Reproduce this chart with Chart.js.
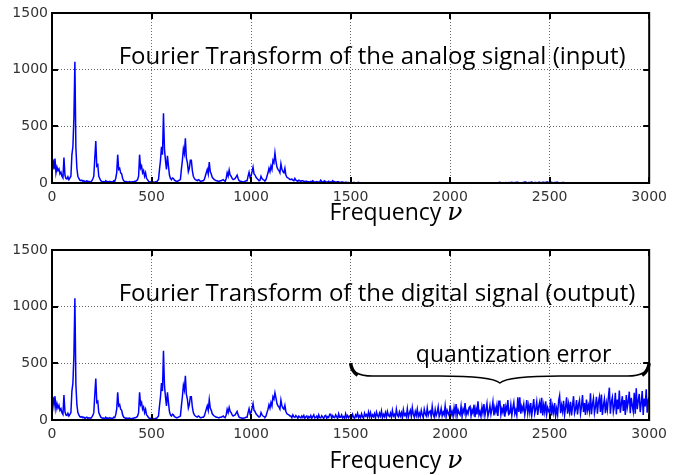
<!DOCTYPE html>
<html><head><meta charset="utf-8">
<script src="https://cdn.jsdelivr.net/npm/chart.js@4"></script>
<style>
body{margin:0;background:#fff;width:673px;height:475px;overflow:hidden;position:relative}
canvas{position:absolute;left:0}
</style>
</head><body>
<canvas id="c1" width="673" height="237" style="top:0"></canvas>
<canvas id="c2" width="673" height="238" style="top:237px"></canvas>
<script>
const freqHz = [
0,5,10,15,20,25,30,35,40,45,50,55,60,65,70,75,80,85,90,95,
100,105,110,115,120,125,130,135,140,145,150,155,160,165,170,175,180,185,190,195,
200,205,210,215,220,225,230,235,240,245,250,255,260,265,270,275,280,285,290,295,
300,305,310,315,320,325,330,335,340,345,350,355,360,365,370,375,380,385,390,395,
400,405,410,415,420,425,430,435,440,445,450,455,460,465,470,475,480,485,490,495,
500,505,510,515,520,525,530,535,540,545,550,555,560,565,570,575,580,585,590,595,
600,605,610,615,620,625,630,635,640,645,650,655,660,665,670,675,680,685,690,695,
700,705,710,715,720,725,730,735,740,745,750,755,760,765,770,775,780,785,790,795,
800,805,810,815,820,825,830,835,840,845,850,855,860,865,870,875,880,885,890,895,
900,905,910,915,920,925,930,935,940,945,950,955,960,965,970,975,980,985,990,995,
1000,1005,1010,1015,1020,1025,1030,1035,1040,1045,1050,1055,1060,1065,1070,1075,1080,1085,1090,1095,
1100,1105,1110,1115,1120,1125,1130,1135,1140,1145,1150,1155,1160,1165,1170,1175,1180,1185,1190,1195,
1200,1205,1210,1215,1220,1225,1230,1235,1240,1245,1250,1255,1260,1265,1270,1275,1280,1285,1290,1295,
1300,1305,1310,1315,1320,1325,1330,1335,1340,1345,1350,1355,1360,1365,1370,1375,1380,1385,1390,1395,
1400,1405,1410,1415,1420,1425,1430,1435,1440,1445,1450,1455,1460,1465,1470,1475,1480,1485,1490,1495,
1500,1505,1510,1515,1520,1525,1530,1535,1540,1545,1550,1555,1560,1565,1570,1575,1580,1585,1590,1595,
1600,1605,1610,1615,1620,1625,1630,1635,1640,1645,1650,1655,1660,1665,1670,1675,1680,1685,1690,1695,
1700,1705,1710,1715,1720,1725,1730,1735,1740,1745,1750,1755,1760,1765,1770,1775,1780,1785,1790,1795,
1800,1805,1810,1815,1820,1825,1830,1835,1840,1845,1850,1855,1860,1865,1870,1875,1880,1885,1890,1895,
1900,1905,1910,1915,1920,1925,1930,1935,1940,1945,1950,1955,1960,1965,1970,1975,1980,1985,1990,1995,
2000,2005,2010,2015,2020,2025,2030,2035,2040,2045,2050,2055,2060,2065,2070,2075,2080,2085,2090,2095,
2100,2105,2110,2115,2120,2125,2130,2135,2140,2145,2150,2155,2160,2165,2170,2175,2180,2185,2190,2195,
2200,2205,2210,2215,2220,2225,2230,2235,2240,2245,2250,2255,2260,2265,2270,2275,2280,2285,2290,2295,
2300,2305,2310,2315,2320,2325,2330,2335,2340,2345,2350,2355,2360,2365,2370,2375,2380,2385,2390,2395,
2400,2405,2410,2415,2420,2425,2430,2435,2440,2445,2450,2455,2460,2465,2470,2475,2480,2485,2490,2495,
2500,2505,2510,2515,2520,2525,2530,2535,2540,2545,2550,2555,2560,2565,2570,2575,2580,2585,2590,2595,
2600,2605,2610,2615,2620,2625,2630,2635,2640,2645,2650,2655,2660,2665,2670,2675,2680,2685,2690,2695,
2700,2705,2710,2715,2720,2725,2730,2735,2740,2745,2750,2755,2760,2765,2770,2775,2780,2785,2790,2795,
2800,2805,2810,2815,2820,2825,2830,2835,2840,2845,2850,2855,2860,2865,2870,2875,2880,2885,2890,2895,
2900,2905,2910,2915,2920,2925,2930,2935,2940,2945,2950,2955,2960,2965,2970,2975,2980,2985,2990,2995,
3000];

const analogMag = [
170,210,120,215,90,140,110,125,80,95, 60,45,225,70,40,35,55,30,45,60,
250,320,570,1070,310,130,60,40,25,20, 25,15,20,10,15,20,10,15,12,10,
20,35,60,220,370,150,160,60,40,20, 15,10,12,8,20,10,12,10,15,10,
10,8,20,15,40,90,250,120,130,90, 80,40,20,15,10,12,8,10,12,8,
8,10,10,15,15,20,30,60,250,130, 150,90,110,60,90,40,30,15,10,8,
12,10,8,6,10,8,20,30,120,200, 320,250,615,300,200,120,240,150,70,40,
30,45,40,25,20,15,15,20,25,30, 120,200,300,260,395,220,180,100,130,200,
200,110,60,40,30,25,20,30,25,15, 15,20,20,30,60,90,120,80,185,100,
80,50,40,30,25,20,20,15,15,20, 20,25,30,20,15,40,90,60,115,70,
60,40,30,35,40,55,70,40,20,15, 15,10,10,12,15,20,20,60,95,50,
60,100,140,80,70,50,40,30,20,25, 60,40,30,25,20,30,60,90,130,100,
150,120,200,180,265,190,140,120,110,90, 170,120,100,90,130,70,50,45,40,30,
30,35,25,20,40,25,20,15,25,20, 15,20,20,15,12,15,15,10,10,8,
15,10,20,12,10,8,12,10,8,10, 25,12,10,15,20,8,8,10,15,6,
10,8,20,10,12,6,8,10,10,5, 6,8,8,4,5,6,6,3,4,3,
3,2,2,4,4,1,1,2,6,3, 2,1,1,2,3,1,1,0,2,1,
1,0,2,1,1,0,1,2,3,1, 1,0,0,1,2,1,1,0,1,1,
1,0,0,1,2,1,1,0,1,0, 0,1,1,0,2,1,0,1,0,1,
0,1,1,0,0,1,2,0,1,0, 0,1,1,0,0,1,0,1,1,0,
1,0,0,1,0,1,1,0,0,1, 1,0,2,1,0,1,1,0,0,1,
0,1,0,0,1,1,1,0,0,1, 0,1,2,0,1,1,0,1,1,0,
1,0,0,1,1,0,2,1,0,1, 0,1,1,0,1,1,2,0,1,2,
1,2,2,1,1,3,3,2,2,4, 6,3,3,2,2,1,5,3,2,4,
3,5,7,2,2,4,4,6,6,2, 2,3,3,5,5,8,8,3,3,4,
4,6,9,3,3,5,5,2,2,7, 7,3,3,6,6,4,4,8,8,3,
3,6,6,2,2,4,4,7,7,3, 3,2,2,5,5,2,2,1,1,0,
2,1,1,0,0,1,1,2,2,1, 1,0,0,1,1,1,1,0,0,1,
1,0,0,1,1,0,0,2,2,1, 1,0,0,1,1,0,0,1,1,0,
0,1,1,0,0,1,1,0,0,1, 1,0,0,1,1,0,2,1,1,0,
0,1,1,0,0,0,0,1,1,0, 0,1,1,0,0,1,1,0,0,1,
1];

const digitalMag = [
175,205,125,210,95,145,105,130,85,100, 65,50,220,75,45,40,60,35,50,65,
255,325,565,1075,315,135,65,45,30,25, 30,20,25,15,20,25,15,20,18,15,
25,40,65,225,365,155,165,65,45,25, 20,15,18,12,25,15,18,15,20,15,
15,12,25,20,45,95,245,125,135,95, 85,45,25,20,15,18,12,15,18,12,
12,15,15,20,20,25,35,65,245,135, 155,95,115,65,95,45,35,20,15,12,
18,15,12,10,15,12,25,35,125,205, 325,255,610,305,205,125,245,155,75,45,
35,50,45,30,25,20,20,25,30,35, 125,205,305,265,390,225,185,105,135,205,
205,115,65,45,35,30,25,35,30,20, 20,25,25,35,65,95,125,85,180,105,
85,55,45,35,30,25,25,20,20,25, 25,30,35,25,20,45,95,65,110,75,
65,45,35,40,45,60,75,45,25,20, 20,15,15,18,20,25,25,65,100,55,
65,105,145,85,75,55,45,35,25,30, 65,45,35,30,25,35,65,95,135,105,
155,125,205,185,240,195,145,125,115,95, 175,125,105,95,130,75,55,50,45,35,
35,20,45,28,22,40,30,15,35,25, 18,35,22,40,15,28,35,12,30,20,
40,15,30,45,18,22,35,10,45,20, 18,38,25,12,35,40,15,30,22,50,
50,15,38,25,20,45,30,12,55,25, 25,45,18,30,15,55,22,40,20,35,
40,18,50,25,12,45,30,60,20,38, 20,55,28,15,60,35,48,22,70,30,
65,20,45,30,55,15,70,40,25,60, 35,80,20,50,30,65,25,75,40,30,
60,25,85,35,50,20,95,45,30,70, 35,65,20,90,40,55,30,100,25,60,
85,30,110,50,25,75,40,95,30,60, 30,85,45,20,95,55,35,105,40,70,
80,30,120,50,25,90,38,65,115,30, 55,100,35,70,45,125,30,85,60,40,
130,45,75,30,110,55,140,35,90,60, 45,120,30,95,65,150,40,80,55,110,
120,35,90,60,135,25,100,50,165,45, 75,30,115,60,140,40,90,145,35,70,
125,50,95,160,40,110,70,130,35,165, 165,45,100,65,140,30,120,85,175,50,
60,135,40,105,155,55,90,40,200,70, 200,55,120,85,140,45,100,175,60,130,
65,150,40,110,185,55,95,160,45,120, 160,60,195,40,130,70,165,50,110,80,
55,190,40,120,65,150,35,100,45,170, 215,60,130,75,170,45,110,200,55,140,
70,160,40,125,210,60,95,175,50,135, 175,55,120,220,70,150,45,180,85,130,
75,235,50,140,190,60,115,205,55,160, 205,70,225,45,130,185,60,150,90,200,
285,55,160,200,70,120,240,50,180,95, 260,65,140,210,80,175,45,220,110,160,
250,60,195,130,75,240,55,280,95,170, 230,70,150,255,45,190,120,270,65,180,
200];

const xTickValues = [0,500,1000,1500,2000,2500,3000];
const yTickValues = [0,500,1000,1500];
const panelTitles = ['Fourier Transform of the analog signal (input)','Fourier Transform of the digital signal (output)'];
const xAxisWord = 'Frequency ';
const xAxisSymbol = '\u03BD';
const braceLabel = 'quantization error';
const braceFrom = 1500, braceTo = 3000;

const TEXT_FONT = '"Open Sans", "DejaVu Sans", sans-serif';
const TICK_FONT = 'DejaVu Sans';

function decorPlugin(cfg){
  return {
    id:'decor',
    afterDatasetsDraw(chart){
      const {ctx, chartArea:a, scales:{x,y}} = chart;
      ctx.save();
      ctx.strokeStyle='#000';
      ctx.lineWidth=2;
      ctx.strokeRect(a.left, a.top, a.right-a.left, a.bottom-a.top);
      ctx.beginPath();
      xTickValues.forEach(v=>{
        const px = Math.round(x.getPixelForValue(v));
        ctx.moveTo(px,a.bottom); ctx.lineTo(px,a.bottom-6);
        ctx.moveTo(px,a.top); ctx.lineTo(px,a.top+6);
      });
      yTickValues.forEach(v=>{
        const py = Math.round(y.getPixelForValue(v));
        ctx.moveTo(a.left,py); ctx.lineTo(a.left+6,py);
        ctx.moveTo(a.right,py); ctx.lineTo(a.right-6,py);
      });
      ctx.stroke();
      ctx.restore();
    },
    afterDraw(chart){
      const {ctx, scales:{x,y}} = chart;
      ctx.save();
      ctx.fillStyle='#000';
      ctx.font = '24px ' + TEXT_FONT;
      ctx.textAlign='left'; ctx.textBaseline='alphabetic';
      ctx.fillText(cfg.title, x.getPixelForValue(335), y.getPixelForValue(1050));
      const SYM_FONT = 'italic 25px "DejaVu Serif", "Liberation Serif", serif';
      ctx.font = '23px ' + TEXT_FONT;
      const w1 = ctx.measureText(xAxisWord).width;
      ctx.font = SYM_FONT;
      const w2 = ctx.measureText(xAxisSymbol).width;
      const cx = x.getPixelForValue(1728);
      const sx = cx - (w1+w2)/2;
      ctx.font = '23px ' + TEXT_FONT;
      ctx.fillText(xAxisWord, sx, cfg.labelBase);
      ctx.font = SYM_FONT;
      ctx.fillText(xAxisSymbol, sx+w1, cfg.labelBase);
      if (cfg.brace){
        const x0 = x.getPixelForValue(braceFrom), x1 = x.getPixelForValue(braceTo);
        const xm = (x0+x1)/2;
        const yE = y.getPixelForValue(500), yM = y.getPixelForValue(388), yT = y.getPixelForValue(326);
        ctx.strokeStyle='#000';
        ctx.lineWidth=1.4;
        ctx.beginPath();
        ctx.moveTo(x0, yE);
        ctx.quadraticCurveTo(x0+1, yM, x0+22, yM);
        ctx.lineTo(xm-60, yM);
        ctx.quadraticCurveTo(xm-8, yM, xm, yT);
        ctx.quadraticCurveTo(xm+8, yM, xm+60, yM);
        ctx.lineTo(x1-22, yM);
        ctx.quadraticCurveTo(x1-1, yM, x1, yE);
        ctx.stroke();
        ctx.lineWidth=3.4;
        ctx.beginPath();
        ctx.moveTo(x0, yE); ctx.quadraticCurveTo(x0+1, yE+8, x0+7, yE+12);
        ctx.moveTo(x1, yE); ctx.quadraticCurveTo(x1-1, yE+8, x1-7, yE+12);
        ctx.stroke();
        ctx.font = '23px ' + TEXT_FONT;
        ctx.textAlign='center';
        ctx.fillText(braceLabel, x.getPixelForValue(2319), y.getPixelForValue(510));
      }
      ctx.restore();
    }
  };
}

function makeChart(id, mag, cfg){
  const pts = freqHz.map((f,i)=>({x:f, y:mag[i]}));
  return new Chart(document.getElementById(id), {
    type:'line',
    data:{datasets:[{data:pts, borderColor:'#0000ff', borderWidth:1.5, pointRadius:0, tension:0, fill:false}]},
    options:{
      responsive:false, animation:false, events:[], parsing:false,
      layout:{padding:{left:0,right:21,top:13,bottom:0}},
      plugins:{legend:{display:false}, tooltip:{enabled:false}},
      scales:{
        x:{type:'linear', min:0, max:3000,
          afterBuildTicks(s){ s.ticks = xTickValues.map(v=>({value:v})); },
          afterFit(s){ s.height = cfg.axisH; },
          grid:{color:'#666', lineWidth:1, drawTicks:false},
          border:{display:false, dash:[1,2]},
          ticks:{padding:6, color:'#333', font:{family:TICK_FONT, size:14}, maxRotation:0, autoSkip:false, callback:v=>String(v)}
        },
        y:{type:'linear', min:0, max:1500,
          afterBuildTicks(s){ s.ticks = yTickValues.map(v=>({value:v})); },
          afterFit(s){ s.width = 52; },
          grid:{color:'#666', lineWidth:1, drawTicks:false},
          border:{display:false, dash:[1,2]},
          ticks:{padding:4, color:'#333', font:{family:TICK_FONT, size:14}, callback:v=>String(v)}
        }
      }
    },
    plugins:[decorPlugin(cfg)]
  });
}

makeChart('c1', analogMag, {title:panelTitles[0], axisH:54, labelBase:220, brace:false});
makeChart('c2', digitalMag, {title:panelTitles[1], axisH:55, labelBase:231, brace:true});
</script>
</body></html>
